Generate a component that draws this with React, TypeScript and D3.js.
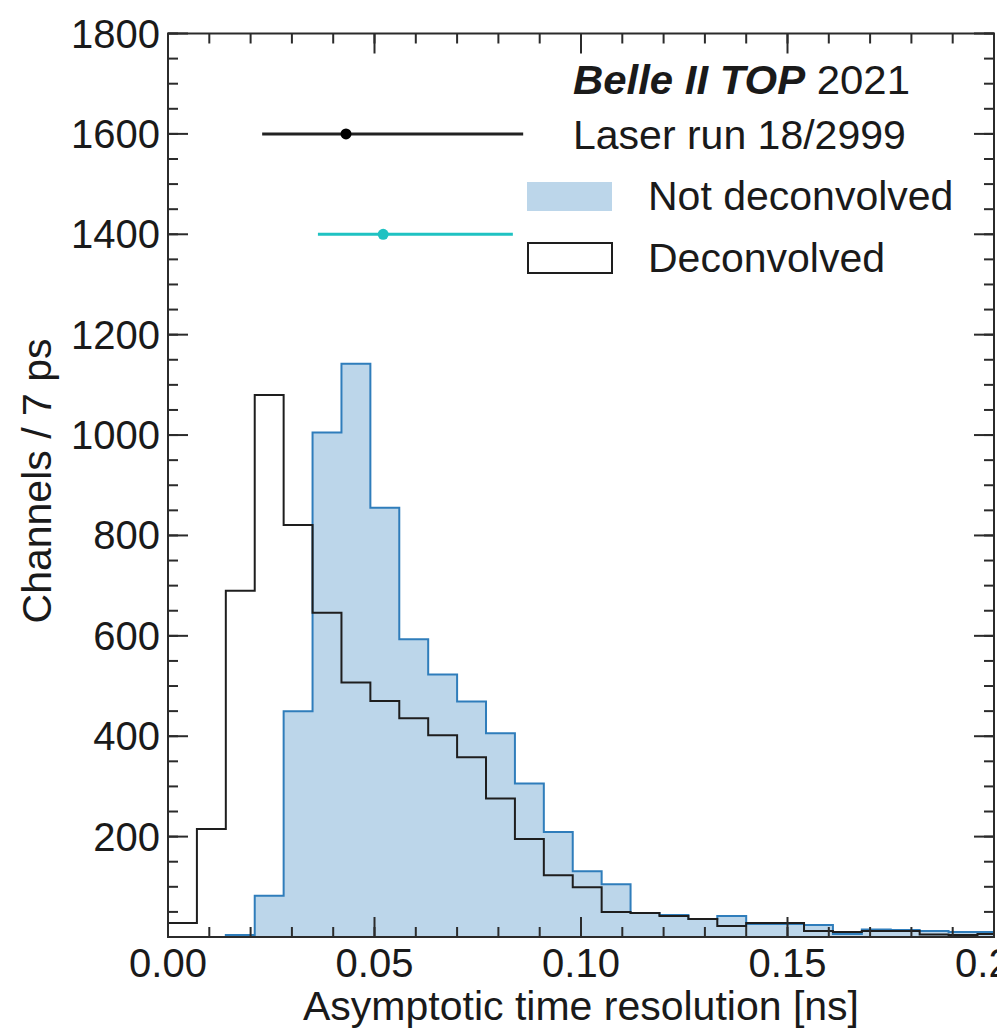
import React from "react";
import * as d3 from "d3";

// histogram bins: 7 ps wide, starting at 0 ns
const binWidth = 0.007;

const deconvolved = [
  28, 215, 690, 1080, 821, 646, 507, 470, 436, 402, 358, 276, 195, 123, 99, 50,
  48, 42, 36, 22, 28, 28, 12, 10, 12, 12, 5, 4, 6,
];

const notDeconvolved = [
  0, 0, 4, 82, 450, 1005, 1142, 855, 593, 523, 469, 406, 306, 209, 131, 105,
  48, 44, 36, 42, 26, 26, 24, 6, 15, 14, 12, 10, 10,
];

// points with asymmetric horizontal error bars shown in the upper left
const errPoints = [
  { x: 0.0431, lo: 0.0228, hi: 0.086, y: 1600, color: "#000000", line: "#222222" },
  { x: 0.0521, lo: 0.0363, hi: 0.0835, y: 1400, color: "#1fc2c2", line: "#1fc2c2" },
];

const xTicks = [0, 0.05, 0.1, 0.15, 0.2];
const xMinor = d3.range(0, 0.2001, 0.01);
const yTicks = d3.range(0, 1801, 200);
const yMinor = d3.range(0, 1801, 50);

const FONT = "'Liberation Sans', Arial, Helvetica, sans-serif";

export default function App() {
  const width = 997;
  const height = 1033;
  const left = 168;
  const right = 994;
  const top = 33.5;
  const bottom = 937;

  const x = d3.scaleLinear().domain([0, 0.2]).range([left, right]);
  const y = d3.scaleLinear().domain([0, 1800]).range([bottom, top]);

  const stepPath = (values: number[]) => {
    const start = values.findIndex((v) => v > 0);
    const pts: [number, number][] = [[x(start * binWidth), y(0)]];
    for (let i = start; i < values.length; i++) {
      pts.push([x(i * binWidth), y(values[i])]);
      pts.push([x((i + 1) * binWidth), y(values[i])]);
    }
    pts.push([x(values.length * binWidth), y(0)]);
    return d3.line()(pts) as string;
  };

  const axisColor = "#2b2b2b";
  const textColor = "#1a1a1a";

  return (
    <div style={{ position: "absolute", left: 0, top: 0 }}>
      <svg width={width} height={height} style={{ display: "block", background: "#fff" }}>
        <defs>
          <clipPath id="plot">
            <rect x={left} y={top} width={right - left} height={bottom - top} />
          </clipPath>
        </defs>

        <g clipPath="url(#plot)">
          {/* not deconvolved: filled step */}
          <path d={stepPath(notDeconvolved)} fill="#bcd6ea" stroke="#2f7dbb" strokeWidth={2} />
          {/* deconvolved: open step */}
          <path d={stepPath(deconvolved)} fill="none" stroke="#1e1e1e" strokeWidth={2} />

          {errPoints.map((p, i) => (
            <g key={i}>
              <line x1={x(p.lo)} x2={x(p.hi)} y1={y(p.y)} y2={y(p.y)} stroke={p.line} strokeWidth={3} />
              <circle cx={x(p.x)} cy={y(p.y)} r={5.5} fill={p.color} />
            </g>
          ))}
        </g>

        {/* ticks, inward on all four sides */}
        <g stroke={axisColor} strokeWidth={2}>
          {xMinor.map((t, i) => (
            <g key={"xm" + i}>
              <line x1={x(t)} x2={x(t)} y1={bottom} y2={bottom - 10} />
              <line x1={x(t)} x2={x(t)} y1={top} y2={top + 10} />
            </g>
          ))}
          {xTicks.map((t, i) => (
            <g key={"xM" + i}>
              <line x1={x(t)} x2={x(t)} y1={bottom} y2={bottom - 20} />
              <line x1={x(t)} x2={x(t)} y1={top} y2={top + 20} />
            </g>
          ))}
          {yMinor.map((t, i) => (
            <g key={"ym" + i}>
              <line x1={left} x2={left + 10} y1={y(t)} y2={y(t)} />
              <line x1={right} x2={right - 10} y1={y(t)} y2={y(t)} />
            </g>
          ))}
          {yTicks.map((t, i) => (
            <g key={"yM" + i}>
              <line x1={left} x2={left + 20} y1={y(t)} y2={y(t)} />
              <line x1={right} x2={right - 20} y1={y(t)} y2={y(t)} />
            </g>
          ))}
        </g>

        <rect x={left} y={top} width={right - left} height={bottom - top} fill="none" stroke={axisColor} strokeWidth={2} />

        {/* tick labels */}
        <g fontFamily={FONT} fontSize={40} fill={textColor}>
          {xTicks.map((t, i) => (
            <text key={"xl" + i} x={x(t)} y={977} textAnchor="middle">
              {d3.format(".2f")(t)}
            </text>
          ))}
          {yTicks.filter((t) => t > 0).map((t, i) => (
            <text key={"yl" + i} x={160} y={y(t) + 14} textAnchor="end">
              {t}
            </text>
          ))}
        </g>

        {/* axis titles */}
        <text x={581} y={1020} textAnchor="middle" fontFamily={FONT} fontSize={41} fill={textColor}>
          Asymptotic time resolution [ns]
        </text>
        <text
          transform={`translate(51, 481) rotate(-90)`}
          textAnchor="middle"
          fontFamily={FONT}
          fontSize={41}
          fill={textColor}
        >
          Channels / 7 ps
        </text>

        {/* legend */}
        <g fontFamily={FONT} fontSize={41} fill={textColor}>
          <text x={573} y={94} textLength={337} lengthAdjust="spacingAndGlyphs">
            <tspan fontWeight="bold" fontStyle="italic">Belle II TOP</tspan>
            <tspan> 2021</tspan>
          </text>
          <text x={573} y={149}>Laser run 18/2999</text>
          <rect x={527} y={182} width={85} height={29} fill="#bcd6ea" />
          <text x={648} y={210}>Not deconvolved</text>
          <rect x={528} y={243} width={84} height={30} fill="none" stroke="#1e1e1e" strokeWidth={2} />
          <text x={648} y={272}>Deconvolved</text>
        </g>
      </svg>
    </div>
  );
}
